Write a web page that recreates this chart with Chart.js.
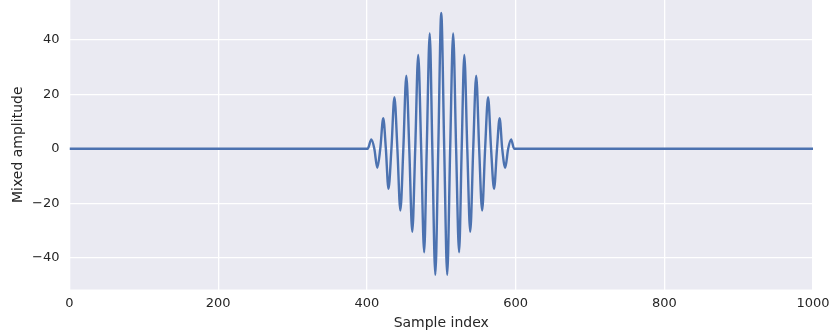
<!DOCTYPE html>
<html>
<head>
<meta charset="utf-8">
<script src="https://cdn.jsdelivr.net/npm/chart.js@4"></script>
<style>
  html, body { margin: 0; padding: 0; background: #fff; }
  #wrap { width: 832px; height: 335px; }
</style>
</head>
<body>
<div id="wrap"><canvas id="chart" width="832" height="335"></canvas></div>
<script>
// values: peaks, troughs and zero crossings of the burst
const sampleIdx = [
  0, 401, 406, 410, 414, 418, 422, 425.5, 429, 433, 437, 441, 445, 449, 453, 457,
  461, 465, 469, 473, 477, 480.5, 484.5, 488, 492, 496, 500, 504, 508, 512, 516,
  520, 524, 527.5, 531, 535, 539, 543, 547, 551, 555, 559, 563, 567, 571, 575,
  578.5, 582, 586, 590, 594, 598, 1000
];
const amplitude = [
  0, 0, 3.4, 0, -7, 0, 11.2, 0, -14.7, 0, 18.9, 0, -22.7, 0, 26.8, 0,
  -30.5, 0, 34.4, 0, -38, 0, 42.3, 0, -46.3, 0, 49.8, 0, -46.3, 0, 42.3,
  0, -38, 0, 34.4, 0, -30.5, 0, 26.8, 0, -22.7, 0, 18.9, 0, -14.7, 0,
  11.2, 0, -7, 0, 3.4, 0, 0
];
const xTicks = [0, 200, 400, 600, 800, 1000];
const yTicks = [-40, -20, 0, 20, 40];

const points = sampleIdx.map((x, i) => ({ x: x, y: amplitude[i] }));

const FONT = "'DejaVu Sans', sans-serif";
const TXT = '#262626';

// seaborn-ish grey plot background
const plotBg = {
  id: 'plotBg',
  beforeDraw(chart) {
    const { ctx, chartArea: a } = chart;
    ctx.save();
    ctx.fillStyle = '#EAEAF2';
    ctx.fillRect(a.left, a.top, a.right - a.left, a.bottom - a.top);
    ctx.restore();
  }
};

function noPad(s) {
  s.paddingTop = 0; s.paddingBottom = 0;
  s.paddingLeft = 0; s.paddingRight = 0;
}

new Chart(document.getElementById('chart'), {
  type: 'line',
  data: {
    datasets: [{
      data: points,
      borderColor: '#4C72B0',
      borderWidth: 2.4,
      pointRadius: 0,
      cubicInterpolationMode: 'monotone',
      fill: false
    }]
  },
  options: {
    responsive: false,
    animation: false,
    layout: { padding: { top: 0, right: 19, left: 0, bottom: 0 } },
    plugins: { legend: { display: false }, tooltip: { enabled: false } },
    scales: {
      x: {
        type: 'linear',
        min: 0, max: 1000,
        afterBuildTicks: s => { s.ticks = xTicks.map(v => ({ value: v })); },
        afterFit: s => { s.height = 45.5; noPad(s); },
        grid: { color: '#ffffff', lineWidth: 1.3, drawTicks: false },
        border: { display: false },
        ticks: { color: TXT, font: { family: FONT, size: 13 }, padding: 6, maxRotation: 0,
                 callback: v => String(v) },
        title: { display: true, text: 'Sample index', color: TXT,
                 font: { family: FONT, size: 14 }, padding: { top: 0, bottom: 3 } }
      },
      y: {
        min: -51.7, max: 54.6,
        afterBuildTicks: s => { s.ticks = yTicks.map(v => ({ value: v })); },
        afterFit: s => { s.width = 69.5; noPad(s); },
        grid: { color: '#ffffff', lineWidth: 1.3, drawTicks: false },
        border: { display: false },
        ticks: { color: TXT, font: { family: FONT, size: 13 }, padding: 10,
                 callback: v => String(v).replace('-', '\u2212') },
        title: { display: true, text: 'Mixed amplitude', color: TXT,
                 font: { family: FONT, size: 14 }, padding: { top: 10, bottom: 0 } }
      }
    }
  },
  plugins: [plotBg]
});
</script>
</body>
</html>
